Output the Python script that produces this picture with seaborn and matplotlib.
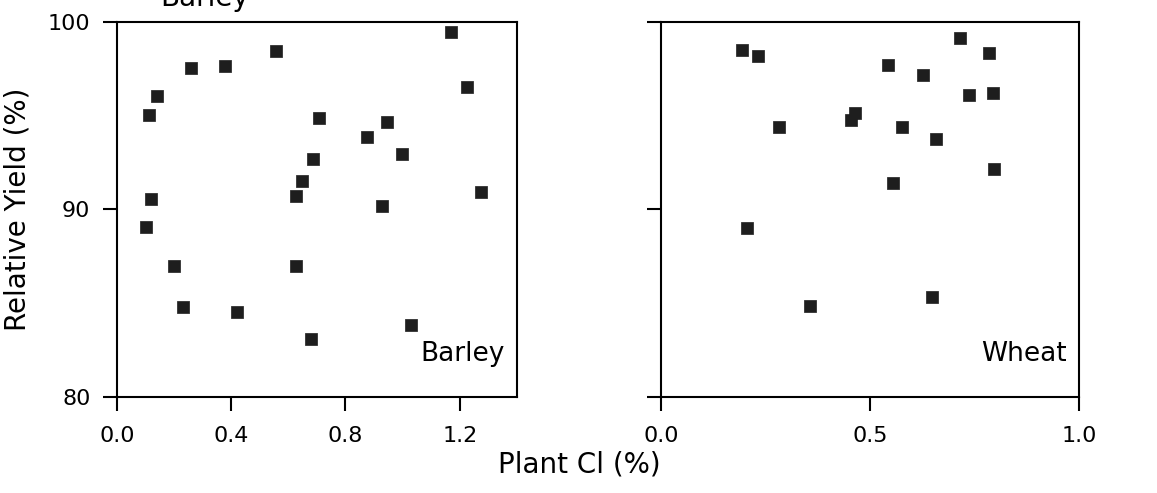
'''Relative yield vs plant Cl for barley and wheat.'''

import pandas as pd
import seaborn as sns
import matplotlib.pyplot as plt

# Barley: plant Cl (%) and relative yield (%)
barley_cl = [1.168, 0.557, 0.261, 0.380, 0.141, 0.111, 1.227, 0.706, 0.945, 0.875,
             0.998, 0.685, 0.647, 0.627, 0.120, 1.275, 0.929, 0.102, 0.201, 0.628,
             0.231, 0.422, 1.029, 0.678]
barley_yield = [99.45, 98.47, 97.56, 97.65, 96.05, 95.04, 96.52, 94.85, 94.64, 93.85,
                92.94, 92.71, 91.52, 90.70, 90.58, 90.93, 90.19, 89.08, 87.00, 86.97,
                84.78, 84.55, 83.84, 83.08]

# Wheat
wheat_cl = [0.194, 0.233, 0.716, 0.785, 0.544, 0.626, 0.736, 0.795, 0.465, 0.455,
            0.283, 0.576, 0.657, 0.796, 0.555, 0.205, 0.356, 0.649]
wheat_yield = [98.51, 98.20, 99.13, 98.33, 97.71, 97.19, 96.11, 96.20, 95.16, 94.77,
               94.37, 94.38, 93.76, 92.18, 91.43, 89.00, 84.87, 85.30]

barley = pd.DataFrame({'cl': barley_cl, 'yield': barley_yield})
wheat = pd.DataFrame({'cl': wheat_cl, 'yield': wheat_yield})

sns.set_style('ticks')
plt.rcParams['font.family'] = ['DejaVu Sans']
plt.rcParams['text.color'] = 'black'
plt.rcParams['axes.labelcolor'] = 'black'

fig = plt.figure(figsize=(11.57, 4.93), dpi=100)
ax1 = fig.add_axes([0.101, 0.195, 0.3457, 0.7606])
ax2 = fig.add_axes([0.5713, 0.195, 0.3613, 0.7606])

for ax, df, xlim, xticks, name in [
        (ax1, barley, (0, 1.4), [0.0, 0.4, 0.8, 1.2], 'Barley'),
        (ax2, wheat, (0, 1.0), [0.0, 0.5, 1.0], 'Wheat')]:
    sns.scatterplot(data=df, x='cl', y='yield', ax=ax, marker='s', s=70,
                    color='#1e1e1e', edgecolor='#1e1e1e', linewidth=0.5)
    ax.set_xlim(*xlim)
    ax.set_ylim(80, 100)
    ax.set_xticks(xticks)
    ax.set_xticklabels([f'{t:.1f}' for t in xticks])
    ax.set_yticks([80, 90, 100])
    ax.set_xlabel('')
    ax.set_ylabel('')
    for sp in ax.spines.values():
        sp.set_visible(True)
        sp.set_linewidth(1.5)
        sp.set_color('black')
    ax.tick_params(direction='out', length=10, width=1.5, labelsize=16,
                   colors='black')
    ax.tick_params(axis='x', pad=11)
    ax.tick_params(axis='y', pad=9)
    ax.text(0.97, 0.08, name, transform=ax.transAxes, ha='right', va='bottom',
            fontsize=19, color='black')

ax2.set_yticklabels([])
ax1.set_ylabel('Relative Yield (%)', fontsize=20, labelpad=12)
fig.text(0.501, 0.03, 'Plant Cl (%)', ha='center', va='bottom', fontsize=20)
fig.text(0.177, 0.975, 'Barley', ha='center', va='bottom', fontsize=20)

fig.savefig('out.png', dpi=100)
